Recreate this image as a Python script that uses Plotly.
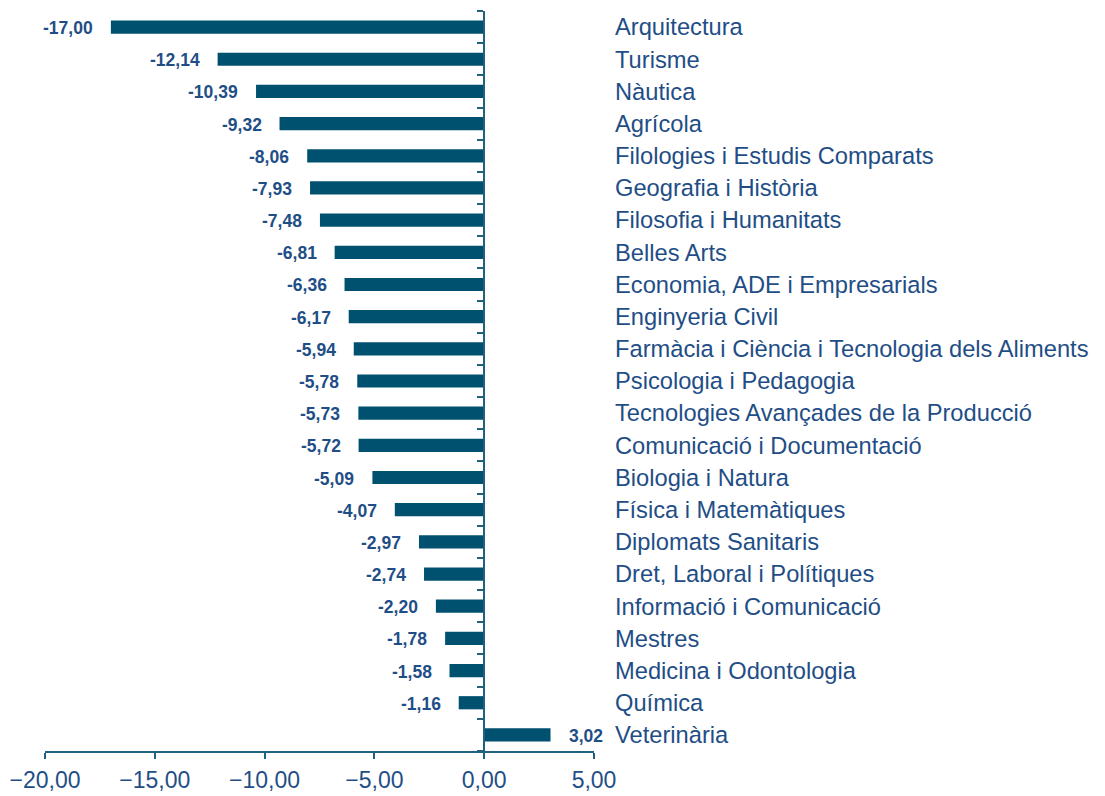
import numpy as np
import plotly.graph_objects as go

categories = [
    "Arquitectura", "Turisme", "Nàutica", "Agrícola",
    "Filologies i Estudis Comparats", "Geografia i Història",
    "Filosofia i Humanitats", "Belles Arts", "Economia, ADE i Empresarials",
    "Enginyeria Civil", "Farmàcia i Ciència i Tecnologia dels Aliments",
    "Psicologia i Pedagogia", "Tecnologies Avançades de la Producció",
    "Comunicació i Documentació", "Biologia i Natura", "Física i Matemàtiques",
    "Diplomats Sanitaris", "Dret, Laboral i Polítiques",
    "Informació i Comunicació", "Mestres", "Medicina i Odontologia",
    "Química", "Veterinària",
]
values = [
    -17.00, -12.14, -10.39, -9.32, -8.06, -7.93, -7.48, -6.81, -6.36, -6.17,
    -5.94, -5.78, -5.73, -5.72, -5.09, -4.07, -2.97, -2.74, -2.20, -1.78,
    -1.58, -1.16, 3.02,
]
x_ticks = [-20, -15, -10, -5, 0, 5]

BAR = "#00506f"
AXIS = "#22607f"
TXT = "#1f4e86"
FONT = "Arial, Liberation Sans, sans-serif"

n = len(categories)
x_range = [x_ticks[0], x_ticks[-1]]

fig = go.Figure()
fig.add_trace(go.Bar(
    x=values, y=categories, orientation="h",
    marker=dict(color=BAR, line=dict(width=0)),
    width=0.41, hoverinfo="x+y",
))
# invisible trace for the zero-line axis
fig.add_trace(go.Scatter(x=[0], y=[0], yaxis="y2", mode="markers",
                         marker=dict(opacity=0), hoverinfo="skip",
                         showlegend=False))

annotations = []
for c, v in zip(categories, values):
    label = f"{v:.2f}".replace(".", ",")
    annotations.append(dict(
        x=v, y=c, xref="x", yref="y", text=f"<b>{label}</b>",
        showarrow=False, xanchor="right" if v < 0 else "left",
        xshift=-16 if v < 0 else 16, yshift=-1,
        font=dict(family=FONT, size=17.5, color=TXT),
    ))

dom = [0, 1]
zero_pos = dom[0] + (0 - x_range[0]) / (x_range[1] - x_range[0]) * (dom[1] - dom[0])

fig.update_layout(
    width=1105, height=796,
    margin=dict(l=37, r=519, t=3, b=53, autoexpand=False),
    plot_bgcolor="white", paper_bgcolor="white",
    separators=",.",
    showlegend=False,
    bargap=0.59,
    annotations=annotations,
    xaxis=dict(
        range=x_range, tickvals=x_ticks, tickformat=".2f",
        showgrid=False, zeroline=False, automargin=False,
        showline=True, linecolor=AXIS, linewidth=2,
        ticks="outside", ticklen=6, tickwidth=2, tickcolor=AXIS,
        tickfont=dict(family=FONT, size=23, color=TXT),
        ticklabelstandoff=1,
        domain=dom,
    ),
    yaxis=dict(
        categoryorder="array", categoryarray=categories,
        range=[n - 0.5, -0.5], side="right", automargin=False,
        showgrid=False, zeroline=False, showline=False, ticks="",
        tickfont=dict(family=FONT, size=23.7, color=TXT),
        ticklabelstandoff=20,
    ),
    yaxis2=dict(
        overlaying="y", anchor="free", position=zero_pos, side="left",
        range=[n - 0.5, -0.5], tickvals=list(np.arange(n + 1) - 0.5),
        showticklabels=False, showgrid=False, zeroline=False, automargin=False,
        showline=True, linecolor=AXIS, linewidth=2,
        ticks="outside", ticklen=6, tickwidth=2, tickcolor=AXIS,
    ),
)

fig.write_html("out.html")
